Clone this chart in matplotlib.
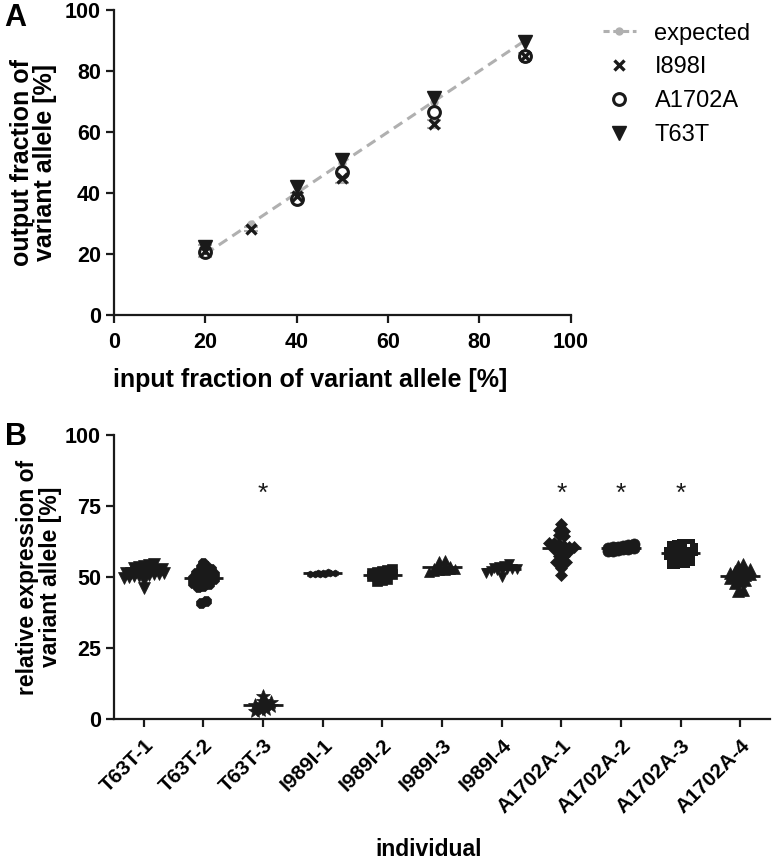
import numpy as np
import matplotlib.pyplot as plt
from matplotlib.lines import Line2D

plt.rcParams["font.family"] = ["Liberation Sans", "DejaVu Sans"]

INK = "#1a1a1a"
GREY = "#b0b0b0"

# panel A: input vs output fraction of variant allele
expected_x = [20, 30, 40, 50, 70, 90]
expected_y = [20, 30, 40, 50, 70, 90]
i898i_x = [20, 30, 40, 50, 70, 90]
i898i_y = [21.0, 28.2, 39.0, 44.9, 62.6, 85.0]
i898i_err = [2.0, 0.8, 1.0, 1.6, 1.3, 0.8]
a1702a_x = [20, 40, 50, 70, 90]
a1702a_y = [20.7, 38.0, 47.0, 66.5, 84.8]
t63t_x = [20, 40, 50, 70, 90]
t63t_y = [22.4, 42.0, 50.8, 71.1, 89.4]

# panel B: relative expression per individual
individuals = ["T63T-1", "T63T-2", "T63T-3", "I989I-1", "I989I-2", "I989I-3",
               "I989I-4", "A1702A-1", "A1702A-2", "A1702A-3", "A1702A-4"]
t63t_1 = [46.0, 49.0, 49.5, 50.0, 50.2, 50.3, 50.6, 50.8, 51.0, 51.2, 51.3, 51.4,
          51.5, 51.7, 51.9, 52.1, 52.3, 52.6, 52.9, 53.2, 53.5, 53.8, 54.2, 54.5]
t63t_2 = [40.8, 41.5, 46.5, 47.0, 47.5, 48.0, 48.3, 48.6, 49.0, 49.3, 49.6,
          50.0, 50.3, 50.7, 51.0, 51.5, 52.0, 52.5, 53.0, 53.5, 54.0, 55.0]
t63t_3 = [3.0, 3.2, 3.5, 4.5, 5.0, 5.3, 5.6, 6.0, 6.5, 8.2]
i989i_1 = [50.9, 51.0, 51.1, 51.2, 51.3, 51.3, 51.4, 51.5, 51.6]
i989i_2 = [48.5, 48.8, 49.2, 50.2, 50.5, 50.8, 51.0, 51.2, 51.5, 51.8, 52.0, 52.5, 53.0]
i989i_3 = [51.8, 52.0, 52.3, 52.5, 52.7, 53.0, 53.2, 53.5, 53.8, 54.0, 55.5, 56.0]
i989i_4 = [50.0, 51.5, 52.0, 52.3, 52.5, 52.7, 52.9, 53.0, 53.2, 53.4, 53.8, 54.5]
a1702a_1 = [68.7, 66.5, 66.3, 64.8, 64.5, 62.1, 62.0, 61.5, 61.0, 60.6, 60.4,
            60.0, 59.8, 59.5, 59.0, 57.4, 57.3, 55.4, 55.3, 55.2, 53.2, 50.7]
a1702a_2 = [59.0, 59.3, 59.6, 59.8, 60.0, 60.1, 60.3, 60.5, 60.7, 61.0, 61.3, 61.8]
a1702a_3 = [55.3, 55.5, 55.8, 56.5, 57.0, 57.5, 58.0, 58.3, 58.6, 59.0, 59.3,
            59.6, 60.0, 60.5, 61.0, 61.2, 61.3]
a1702a_4 = [45.0, 45.3, 48.0, 48.5, 49.0, 49.5, 50.0, 50.3, 50.6, 51.0, 51.5,
            52.0, 52.3, 52.6, 53.0, 53.8, 54.5]
significant = ["T63T-3", "A1702A-1", "A1702A-2", "A1702A-3"]

group_values = [t63t_1, t63t_2, t63t_3, i989i_1, i989i_2, i989i_3, i989i_4,
                a1702a_1, a1702a_2, a1702a_3, a1702a_4]

# marker, size, face, edge width
group_styles = [
    ("v", 8, INK, 0.5),
    ("8", 8, INK, 0.5),
    ("*", 10, INK, 0.5),
    ("h", 5, INK, 0.5),
    ("s", 6.5, INK, 0.5),
    ("^", 7, INK, 0.5),
    ("v", 7, INK, 0.5),
    ("D", 6, INK, 0.5),
    ("o", 8, INK, 0.5),
    ("s", 6, "white", 3.6),
    ("^", 9, INK, 0.5),
]


def swarm_offsets(values, row_height=1.8, step=0.085):
    vals = np.asarray(values, dtype=float)
    rows = np.round(vals / row_height).astype(int)
    offsets = np.zeros(len(vals))
    for r in np.unique(rows):
        idx = np.where(rows == r)[0]
        offsets[idx] = (np.arange(len(idx)) - (len(idx) - 1) / 2) * step
    return offsets


def style_axis(ax):
    for side in ("top", "right"):
        ax.spines[side].set_visible(False)
    for side in ("left", "bottom"):
        ax.spines[side].set_linewidth(1.6)
        ax.spines[side].set_color(INK)
    ax.tick_params(direction="out", length=6, width=1.6, color=INK, labelsize=15.5)
    ax.tick_params(axis="x", pad=6)
    for lab in ax.get_yticklabels():
        lab.set_fontweight("bold")


fig = plt.figure(figsize=(7.74, 8.64), dpi=100)

# ---- panel A
axA = fig.add_axes([0.1473, 0.6354, 0.590, 0.353])
axA.errorbar(i898i_x, i898i_y, yerr=i898i_err, fmt="none", ecolor=GREY,
             elinewidth=1.5, capsize=5, capthick=1.5, zorder=2)
axA.plot(expected_x, expected_y, color=GREY, lw=2.2, linestyle=(0, (3.3, 2.0)),
         marker="o", ms=5, zorder=2)
axA.plot(a1702a_x, a1702a_y, linestyle="none", marker="o", ms=8.5, mfc="white",
         mec=INK, mew=2.2, zorder=3)
axA.plot(i898i_x, i898i_y, linestyle="none", marker="x", ms=6.5, mec=INK, mew=2.4, zorder=4)
axA.plot(t63t_x, t63t_y, linestyle="none", marker="v", ms=9.5, color=INK, zorder=5)
axA.set_xlim(0, 100)
axA.set_ylim(0, 100)
axA.set_xticks(range(0, 101, 20))
axA.set_yticks(range(0, 101, 20))
style_axis(axA)
for lab in axA.get_xticklabels():
    lab.set_fontweight("bold")
axA.set_xlabel("input fraction of variant allele [%]", fontsize=18, fontweight="bold")
axA.xaxis.set_label_coords(0.43, -0.175)
axA.set_ylabel("output fraction of\nvariant allele [%]", fontsize=18,
               fontweight="bold", linespacing=0.95)
axA.yaxis.set_label_coords(-0.125, 0.5)

legend_handles = [
    Line2D([], [], color=GREY, lw=2.2, linestyle=(0, (2.0, 1.2)), marker="o", ms=5),
    Line2D([], [], linestyle="none", marker="x", ms=6.5, mec=INK, mew=2.4),
    Line2D([], [], linestyle="none", marker="o", ms=8.5, mfc="white", mec=INK, mew=2.2),
    Line2D([], [], linestyle="none", marker="v", ms=9.5, color=INK),
]
fig.legend(legend_handles, ["expected", "I898I", "A1702A", "T63T"],
           loc="upper left", bbox_to_anchor=(586 / 774, 1 - 6 / 864),
           frameon=False, fontsize=17, handlelength=1.4, handletextpad=0.8,
           labelspacing=0.5, borderpad=0.2)

# ---- panel B
axB = fig.add_axes([0.1473, 0.1678, 0.8475, 0.3287])
for i, (vals, (mk, ms, fc, mew)) in enumerate(zip(group_values, group_styles)):
    xs = i + swarm_offsets(vals)
    axB.plot(xs, vals, linestyle="none", marker=mk, ms=ms, mfc=fc, mec=INK,
             mew=mew, zorder=3)
    m = float(np.mean(vals))
    axB.hlines(m, i - 0.33, i + 0.33, color=INK, lw=2, zorder=4)
for name in significant:
    axB.text(individuals.index(name), 79.3, "*", ha="center", va="center",
             fontsize=19, color=INK)
axB.set_xlim(-0.5, 10.5)
axB.set_ylim(0, 100)
axB.set_yticks([0, 25, 50, 75, 100])
axB.set_xticks(range(len(individuals)))
axB.set_xticklabels(individuals, rotation=45, ha="right", rotation_mode="anchor")
style_axis(axB)
for lab in axB.get_xticklabels():
    lab.set_fontweight("bold")
    lab.set_fontsize(15)
axB.set_xlabel("individual", fontsize=16.5, fontweight="bold")
axB.xaxis.set_label_coords(0.48, -0.42)
axB.set_ylabel("relative expression of\nvariant allele [%]", fontsize=16.5,
               fontweight="bold", linespacing=0.95)
axB.yaxis.set_label_coords(-0.08, 0.5)

fig.text(0.006, 0.996, "A", fontsize=22, fontweight="bold", va="top", ha="left")
fig.text(0.006, 0.511, "B", fontsize=22, fontweight="bold", va="top", ha="left")

fig.savefig("out.png", dpi=100)
